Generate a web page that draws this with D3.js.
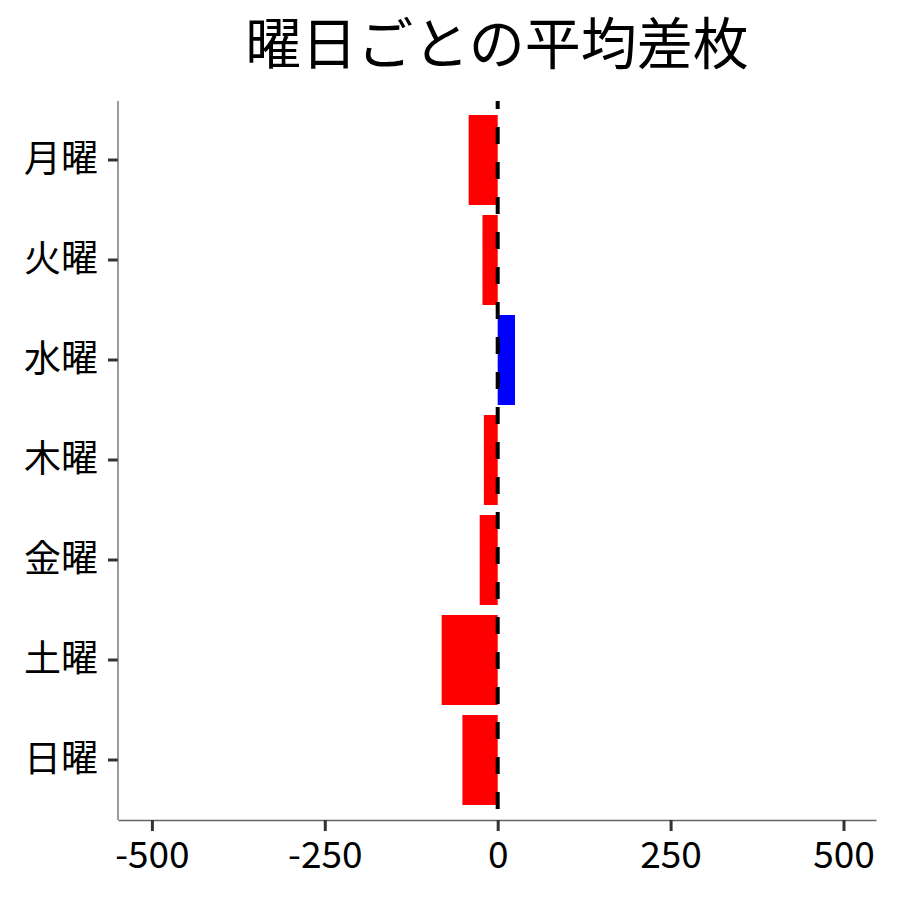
<!DOCTYPE html>
<html>
<head>
<meta charset="utf-8">
<script src="https://cdn.jsdelivr.net/npm/d3@7"></script>
<style>
  body { margin: 0; background: #fff; }
</style>
</head>
<body>
<div id="chart"></div>
<script>
// Data
const days = ["月曜", "火曜", "水曜", "木曜", "金曜", "土曜", "日曜"];
const avgDiff = [-42, -22, 25, -20, -26, -81, -51];
const xTicks = [-500, -250, 0, 250, 500];

const width = 900, height = 900;
const margin = { top: 101, right: 24, bottom: 80, left: 118 };
const fontFamily = "'Noto Sans CJK JP', 'Noto Sans', sans-serif";

const svg = d3.select("#chart")
  .append("svg")
    .attr("width", width)
    .attr("height", height)
    .style("font-family", fontFamily);

// Scales
const x = d3.scaleLinear()
  .domain([-549, 547])
  .range([margin.left, width - margin.right]);

const y = d3.scaleBand()
  .domain(days)
  .range([110, 810])
  .paddingInner(0.1)
  .paddingOuter(0.05);

const plotBottom = height - margin.bottom; // 820

// Bars
svg.selectAll(".bar")
  .data(days.map((d, i) => ({ day: d, v: avgDiff[i] })))
  .enter()
  .append("rect")
    .attr("class", "bar")
    .attr("x", d => x(Math.min(0, d.v)))
    .attr("y", d => y(d.day))
    .attr("width", d => Math.abs(x(d.v) - x(0)))
    .attr("height", y.bandwidth())
    .attr("fill", d => d.v >= 0 ? "#0000ff" : "#ff0000");

// Zero reference line (dashed)
svg.append("line")
  .attr("x1", x(0)).attr("x2", x(0))
  .attr("y1", margin.top).attr("y2", plotBottom)
  .attr("stroke", "#000")
  .attr("stroke-width", 4)
  .attr("stroke-dasharray", "17,18")
  .attr("stroke-dashoffset", 9);

// X axis
const xAxis = svg.append("g")
  .attr("transform", `translate(0,${plotBottom})`)
  .call(d3.axisBottom(x).tickValues(xTicks).tickSize(11).tickPadding(11)
    .tickFormat(d3.format("d")).tickSizeOuter(0));
xAxis.select(".domain").attr("stroke", "#666").attr("stroke-width", 1.3);
xAxis.selectAll(".tick line").attr("stroke", "#333").attr("stroke-width", 3);
xAxis.selectAll(".tick text")
  .attr("fill", "#000")
  .style("font-size", "37px")
  .style("font-family", fontFamily)
  .text(d => d < 0 ? "-" + Math.abs(d) : d);

// Y axis
const yAxis = svg.append("g")
  .attr("transform", `translate(${margin.left},0)`)
  .call(d3.axisLeft(y).tickSize(10).tickPadding(10).tickSizeOuter(0));
yAxis.select(".domain").remove();
yAxis.selectAll(".tick line").attr("stroke", "#333").attr("stroke-width", 3);
yAxis.selectAll(".tick text")
  .attr("fill", "#000")
  .style("font-size", "37px")
  .style("font-family", fontFamily);

// Left spine spans the full plot height
svg.append("line")
  .attr("x1", margin.left).attr("x2", margin.left)
  .attr("y1", margin.top).attr("y2", plotBottom)
  .attr("stroke", "#666")
  .attr("stroke-width", 1.3);

// Title
svg.append("text")
  .attr("x", (margin.left + width - margin.right) / 2)
  .attr("y", 64)
  .attr("text-anchor", "middle")
  .style("font-size", "56px")
  .text("曜日ごとの平均差枚");
</script>
</body>
</html>
